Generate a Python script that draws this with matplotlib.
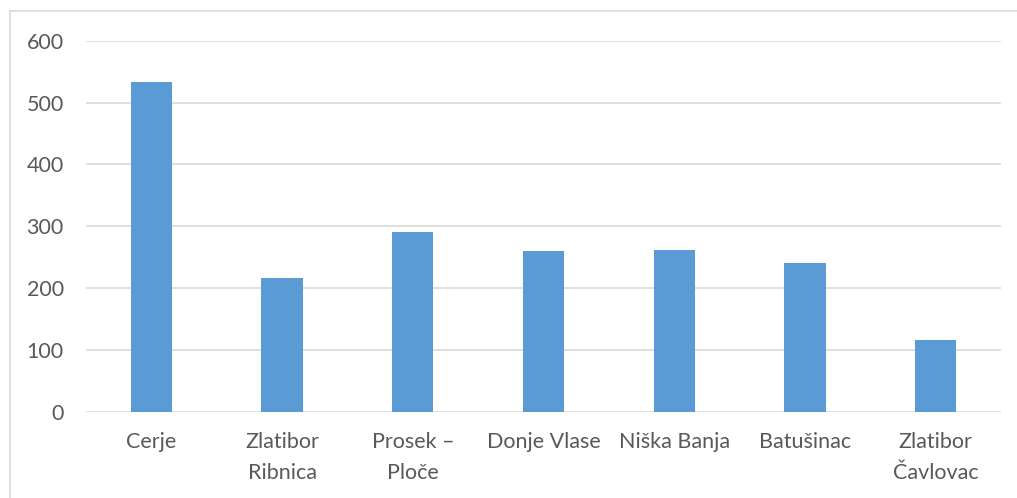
import matplotlib
matplotlib.use("Agg")
import matplotlib.pyplot as plt
from matplotlib.patches import Rectangle

categories = ["Cerje", "Zlatibor\nRibnica", "Prosek –\nPloče", "Donje Vlase",
              "Niška Banja", "Batušinac", "Zlatibor\nČavlovac"]
values = [533, 217, 290, 260, 261, 241, 116]
yticks = [0, 100, 200, 300, 400, 500, 600]

plt.rcParams['font.family'] = ['Lato', 'DejaVu Sans']

fig = plt.figure(figsize=(10.17, 4.98), dpi=100)
# light frame round the chart (right and bottom edges fall outside the image)
fig.patches.append(Rectangle((10 / 1017, -0.1), 1.1, 1.1 - 11.5 / 498,
                             transform=fig.transFigure, fill=False,
                             edgecolor="#d9d9d9", linewidth=1.2))

ax = fig.add_axes([86 / 1017, 1 - 411.5 / 498, 915 / 1017, 370.5 / 498])
x = range(len(categories))
ax.bar(x, values, width=0.315, color="#5B9BD5", zorder=3)

ax.set_xlim(-0.5, len(categories) - 0.5)
ax.set_ylim(0, 600)
ax.set_yticks(yticks)
ax.set_xticks(list(x))
ax.set_xticklabels(categories, linespacing=1.65)
ax.grid(axis="y", color="#d9d9d9", linewidth=1.2, zorder=0)
for s in ax.spines.values():
    s.set_visible(False)
ax.tick_params(axis="both", length=0, labelsize=15.5, colors="#595959")
ax.tick_params(axis="y", pad=16)
ax.tick_params(axis="x", pad=15)

fig.savefig("out.png", dpi=100)
